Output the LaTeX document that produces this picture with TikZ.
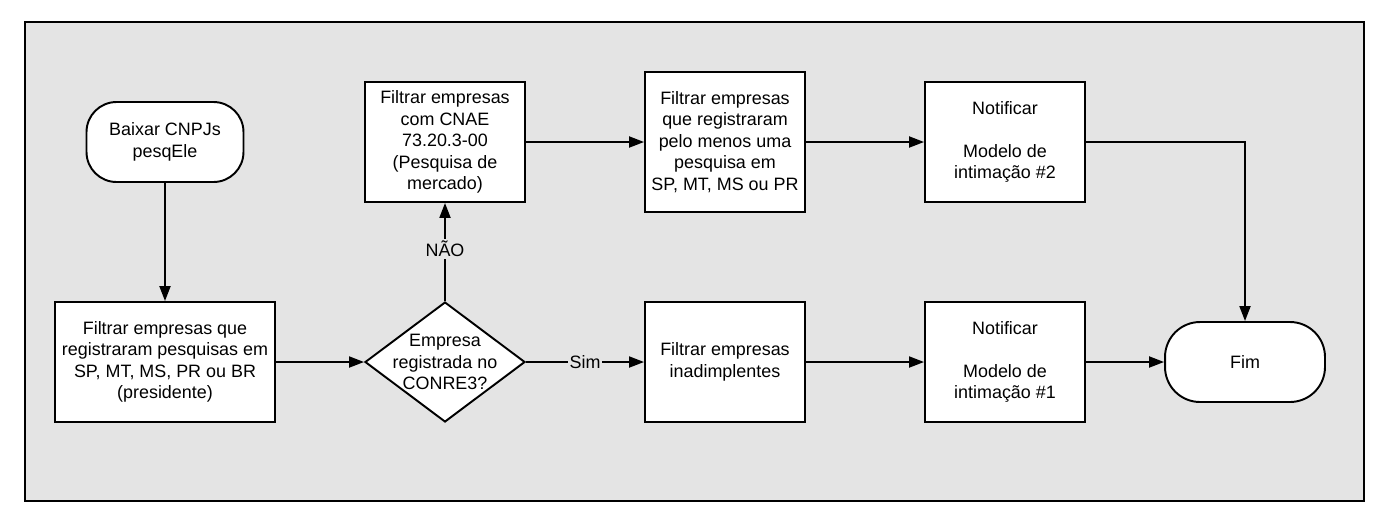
\documentclass[tikz,border=0pt]{standalone}
\usepackage{fontspec}
\setmainfont{Liberation Sans}
\usepackage{tikz}
\usetikzlibrary{shapes,shapes.geometric,arrows.meta,positioning,calc}
\definecolor{panelgray}{HTML}{E4E4E4}

\begin{document}
\begin{tikzpicture}[x=0.02cm, y=-0.02cm,
  box/.style={rectangle, draw, fill=white, line width=1.1pt, minimum width=3.2cm,
    minimum height=2.4cm, align=center, inner sep=2pt,
    font=\fontsize{10.2}{12.2}\selectfont},
  term/.style={box, rounded corners=0.6cm, minimum height=1.6cm},
  decide/.style={diamond, draw, fill=white, line width=1.1pt, aspect=1.333,
    minimum width=3.2cm, minimum height=2.4cm, inner sep=-0.16cm, align=center,
    font=\fontsize{10.2}{12.2}\selectfont},
  arr/.style={-{Triangle[length=0.3cm,width=0.22cm]}, line width=1.1pt},
  lbl/.style={fill=panelgray, inner sep=1pt, font=\fontsize{10.2}{12.2}\selectfont}
]
\useasboundingbox (0,0) rectangle (1395,522);
\draw[line width=1.2pt, fill=panelgray] (25,22) rectangle (1364,501);

\node[term, minimum width=3.14cm] (baixar) at (165,142) {Baixar CNPJs\\pesqEle};
\node[box, minimum width=4.4cm] (filtro) at (165,362)
  {Filtrar empresas que\\registraram pesquisas em\\SP, MT, MS, PR ou BR\\(presidente)};
\node[decide] (conre) at (445,362) {Empresa\\registrada no\\CONRE3?};
\node[box] (cnae) at (445,142)
  {Filtrar empresas\\com CNAE\\73.20.3-00\\(Pesquisa de\\mercado)};
\node[box, minimum height=2.8cm] (pelo) at (725,142)
  {Filtrar empresas\\que registraram\\pelo menos uma\\pesquisa em\\SP, MT, MS ou PR};
\node[box] (notdois) at (1005,142) {Notificar\\~\\Modelo de\\intimação \#2};
\node[box] (inadimp) at (725,362) {Filtrar empresas\\inadimplentes};
\node[box] (notum) at (1005,362) {Notificar\\~\\Modelo de\\intimação \#1};
\node[term, rounded corners=0.7cm] (fim) at (1245,362) {Fim};

\draw[arr] (baixar) -- (filtro);
\draw[arr] (filtro) -- (conre);
\draw[arr] (conre) -- node[lbl, pos=0.53] {NÃO} (cnae);
\draw[arr] (conre) -- node[lbl] {Sim} (inadimp);
\draw[arr] (cnae) -- (pelo);
\draw[arr] (pelo) -- (notdois);
\draw[arr] (notdois.east) -| (fim.north);
\draw[arr] (inadimp) -- (notum);
\draw[arr] (notum) -- (fim);
\end{tikzpicture}
\end{document}
